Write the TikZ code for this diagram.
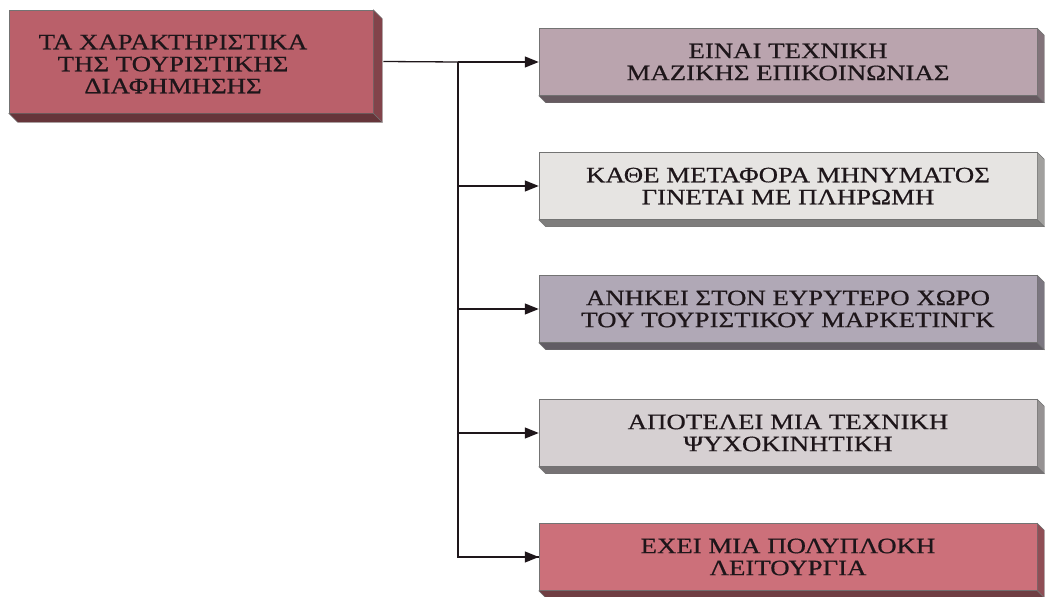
\documentclass[tikz,border=0pt]{standalone}
\usepackage{fontspec}
\newfontfamily\grfont[FakeStretch=1.22,FakeBold=0.6]{Liberation Serif}
\usetikzlibrary{arrows.meta}
\definecolor{roseA}{RGB}{186,96,106}
\definecolor{roseB}{RGB}{204,112,122}
\definecolor{mauve}{RGB}{186,164,174}
\definecolor{pale}{RGB}{230,228,226}
\definecolor{lilac}{RGB}{176,168,182}
\definecolor{lightg}{RGB}{214,208,210}
\definecolor{ink}{RGB}{30,22,26}
\tikzset{
  front/.style={draw=black!55, line width=0.5pt, minimum width=498pt, minimum height=67pt, inner sep=0pt},
  srcbox/.style={front, minimum width=364pt, minimum height=103pt},
  label/.style={font=\grfont\fontsize{22}{22}\selectfont, align=center, text=ink, inner sep=0pt},
  link/.style={draw=ink, line width=1.3pt},
  arr/.style={link, -{Triangle[length=14pt,width=11pt]}}
}
\newcommand\depthfaces[3]{% node, colour, depth
  \fill[#2!70!black, draw=black!55, line width=0.4pt] (#1.north east) -- ++(#3,#3) -- ([shift={(#3,#3)}]#1.south east) -- (#1.south east) -- cycle;
  \fill[#2!55!black, draw=black!55, line width=0.4pt] (#1.south west) -- ++(#3,#3) -- ([shift={(#3,#3)}]#1.south east) -- (#1.south east) -- cycle;
}
\begin{document}
\begin{tikzpicture}[x=1pt,y=-1pt]
\useasboundingbox (0,0) rectangle (1045,597);
% source box
\node[srcbox, fill=roseA] (src) at (191,61.5) {};
\depthfaces{src}{roseA}{9}
\node[label] (srct) at (173,64) {ΤΑ ΧΑΡΑΚΤΗΡΙΣΤΙΚΑ\\ΤΗΣ ΤΟΥΡΙΣΤΙΚΗΣ\\ΔΙΑΦΗΜΗΣΗΣ};
% target boxes
\node[front, fill=mauve, label] (b1) at (788,62) {ΕΙΝΑΙ ΤΕΧΝΙΚΗ\\ΜΑΖΙΚΗΣ ΕΠΙΚΟΙΝΩΝΙΑΣ};
\node[front, fill=pale, label] (b2) at (788,186) {ΚΑΘΕ ΜΕΤΑΦΟΡΑ ΜΗΝΥΜΑΤΟΣ\\ΓΙΝΕΤΑΙ ΜΕ ΠΛΗΡΩΜΗ};
\node[front, fill=lilac, label] (b3) at (788,309) {ΑΝΗΚΕΙ ΣΤΟΝ ΕΥΡΥΤΕΡΟ ΧΩΡΟ\\ΤΟΥ ΤΟΥΡΙΣΤΙΚΟΥ ΜΑΡΚΕΤΙΝΓΚ};
\node[front, fill=lightg, label] (b4) at (788,433) {ΑΠΟΤΕΛΕΙ ΜΙΑ ΤΕΧΝΙΚΗ\\ΨΥΧΟΚΙΝΗΤΙΚΗ};
\node[front, fill=roseB, label] (b5) at (788,557) {ΕΧΕΙ ΜΙΑ ΠΟΛΥΠΛΟΚΗ\\ΛΕΙΤΟΥΡΓΙΑ};
\depthfaces{b1}{mauve}{7}
\depthfaces{b2}{pale}{7}
\depthfaces{b3}{lilac}{7}
\depthfaces{b4}{lightg}{7}
\depthfaces{b5}{roseB}{7}
% connectors
\coordinate (j) at (458,62);
\draw[link] ([xshift=10pt]src.east) -- (j);
\draw[arr] (j) -- (b1.west);
\draw[link] (j) |- (b5.west);
\draw[arr] (j |- b5.west) -- (b5.west);
\draw[arr] (j |- b2.west) -- (b2.west);
\draw[arr] (j |- b3.west) -- (b3.west);
\draw[arr] (j |- b4.west) -- (b4.west);
\end{tikzpicture}
\end{document}
